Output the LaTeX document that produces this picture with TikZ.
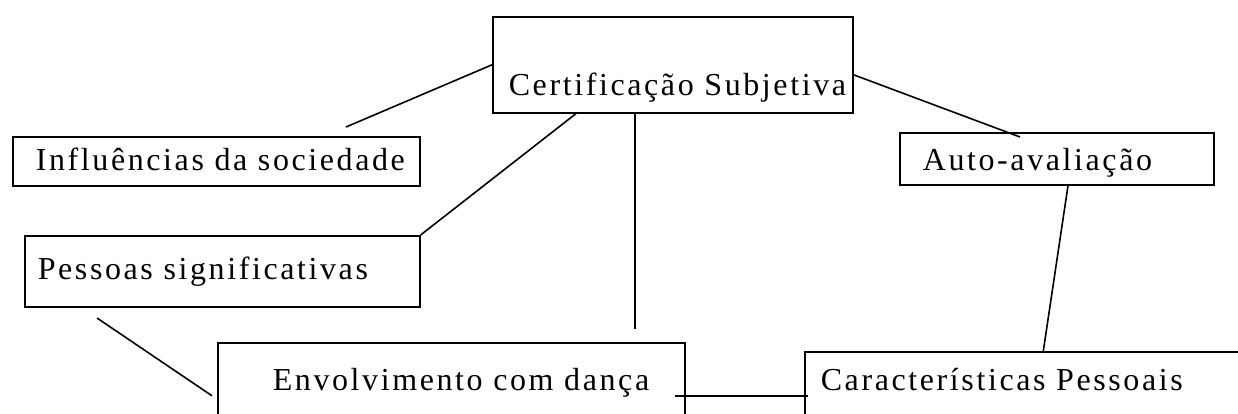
\documentclass[tikz,border=0pt]{standalone}
\usepackage{fontspec}
\setmainfont{Liberation Serif}
\newcommand{\boxtext}[3]{\makebox[#1][l]{\hspace*{#2}#3}}
\def\lsword#1{\lsstep#1\relax}
\def\lsstep#1{\ifx#1\relax\else#1\kern2.6pt\relax\expandafter\lsstep\fi}
\tikzset{
  box/.style={draw, line width=1.6pt, inner sep=0pt, anchor=north west,
              font=\fontsize{32}{38}\selectfont},
  conn/.style={line width=1.6pt},
}
\begin{document}
\begin{tikzpicture}[x=1pt,y=-1pt]
\useasboundingbox (0,0) rectangle (1238,414);
\clip (0,0) rectangle (1238,414);
\fill[white] (0,0) rectangle (1238,414);

\node[box, text height=79pt, text depth=17pt] (cert) at (492,16)
  {\boxtext{360pt}{16pt}{\lsword{Certificação} \lsword{Subjetiva}}};
\node[box, text height=34pt, text depth=15pt] (infl) at (12,136)
  {\boxtext{407pt}{23pt}{\lsword{Influências} \lsword{da} \lsword{sociedade}}};
\node[box, text height=44pt, text depth=27pt] (pess) at (24,235)
  {\boxtext{395pt}{13pt}{\lsword{Pessoas} \lsword{significativas}}};
\node[box, text height=38pt, text depth=14pt] (auto) at (899,132)
  {\boxtext{314pt}{23pt}{\lsword{Auto-avaliação}}};
\node[box, text height=48pt, text depth=58pt] (env) at (217,342)
  {\boxtext{467pt}{55pt}{\lsword{Envolvimento} \lsword{com} \lsword{dança}}};
\node[box, text height=39pt, text depth=49pt] (car) at (804,351)
  {\boxtext{460pt}{16pt}{\lsword{Características} \lsword{Pessoais}}};

\coordinate (inflend) at (346,127);
\coordinate (vertend) at (635,329);
\coordinate (pessend) at (97,318);

\draw[conn] (inflend) -- (cert.west);
\draw[conn] ([xshift=84pt]cert.south west) -- (pess.north east);
\draw[conn] ([xshift=143pt]cert.south west) -- (vertend);
\draw[conn] ([yshift=-10pt]cert.east) -- ([xshift=121pt,yshift=-5pt]auto.north west);
\draw[conn] ([xshift=169pt]auto.south west) -- ([xshift=239pt,yshift=-2pt]car.north west);
\draw[conn] (pessend) -- ([xshift=-5pt]env.west);
\draw[conn] ([xshift=-11pt]env.east) -- ([xshift=4pt]car.west);
\end{tikzpicture}
\end{document}
